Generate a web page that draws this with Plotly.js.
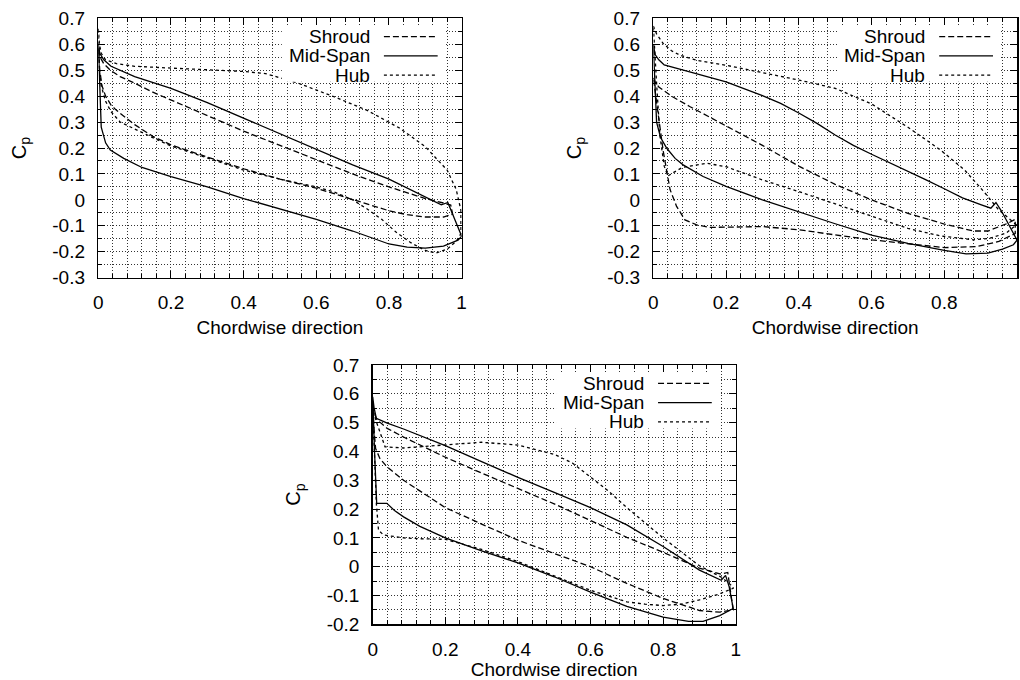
<!DOCTYPE html>
<html>
<head>
<meta charset="utf-8">
<script src="https://cdn.plot.ly/plotly-3.0.1.min.js"></script>
<style>html,body{margin:0;padding:0;background:#fff;}#chart{width:1020px;height:680px;}</style>
</head>
<body>
<div id="chart"></div>
<script>
// ---------- Data ----------
const seriesNames = ['Shroud', 'Mid-Span', 'Hub'];
const xTickVals = [0, 0.2, 0.4, 0.6, 0.8, 1];
const xTickText = ['0', '0.2', '0.4', '0.6', '0.8', '1'];
const yTickValsTop = [-0.3, -0.2, -0.1, 0, 0.1, 0.2, 0.3, 0.4, 0.5, 0.6, 0.7];
const yTickTextTop = ['-0.3', '-0.2', '-0.1', '0', '0.1', '0.2', '0.3', '0.4', '0.5', '0.6', '0.7'];
const yTickValsBot = [-0.2, -0.1, 0, 0.1, 0.2, 0.3, 0.4, 0.5, 0.6, 0.7];
const yTickTextBot = ['-0.2', '-0.1', '0', '0.1', '0.2', '0.3', '0.4', '0.5', '0.6', '0.7'];

// Panel 1 (top left)
const p1ShroudUpX = [0, 0.005, 0.015, 0.033, 0.06, 0.1, 0.15, 0.2, 0.3, 0.4, 0.5, 0.6, 0.7, 0.8, 0.9, 0.95, 0.97];
const p1ShroudUpY = [0.58, 0.55, 0.525, 0.5, 0.475, 0.45, 0.415, 0.385, 0.325, 0.265, 0.21, 0.155, 0.1, 0.05, 0.005, -0.012, -0.02];
const p1ShroudLoX = [0, 0.004, 0.01, 0.02, 0.035, 0.05, 0.1, 0.15, 0.2, 0.3, 0.4, 0.5, 0.6, 0.7, 0.75, 0.8, 0.85, 0.9, 0.95, 0.975];
const p1ShroudLoY = [0.58, 0.5, 0.44, 0.4, 0.365, 0.345, 0.29, 0.245, 0.212, 0.165, 0.12, 0.08, 0.045, 0.0, -0.02, -0.042, -0.057, -0.066, -0.066, -0.055];
const p1MidUpX = [0, 0.004, 0.015, 0.035, 0.1, 0.2, 0.3, 0.4, 0.5, 0.6, 0.7, 0.8, 0.9, 0.944, 0.962, 0.974];
const p1MidUpY = [0.6, 0.565, 0.54, 0.515, 0.475, 0.43, 0.375, 0.315, 0.255, 0.192, 0.135, 0.08, 0.012, -0.019, -0.01, -0.05];
const p1MidLoX = [0, 0.004, 0.008, 0.02, 0.033, 0.07, 0.12, 0.2, 0.3, 0.4, 0.5, 0.6, 0.7, 0.75, 0.8, 0.85, 0.9, 0.95, 0.99, 1.0];
const p1MidLoY = [0.6, 0.45, 0.28, 0.22, 0.192, 0.16, 0.125, 0.09, 0.05, 0.005, -0.035, -0.075, -0.12, -0.145, -0.17, -0.182, -0.186, -0.178, -0.155, -0.14];
const p1HubUpX = [0, 0.003, 0.008, 0.02, 0.05, 0.1, 0.2, 0.3, 0.4, 0.46, 0.55, 0.65, 0.74, 0.83, 0.9, 0.96, 0.985, 0.998];
const p1HubUpY = [0.66, 0.6, 0.565, 0.54, 0.525, 0.515, 0.508, 0.502, 0.495, 0.487, 0.45, 0.397, 0.345, 0.276, 0.205, 0.115, 0.04, -0.04];
const p1HubLoX = [0, 0.003, 0.008, 0.02, 0.035, 0.06, 0.1, 0.15, 0.2, 0.3, 0.4, 0.5, 0.6, 0.65, 0.7, 0.74, 0.78, 0.82, 0.86, 0.9, 0.93, 0.96, 0.985, 0.998];
const p1HubLoY = [0.66, 0.5, 0.44, 0.38, 0.34, 0.3, 0.275, 0.24, 0.208, 0.16, 0.115, 0.08, 0.05, 0.03, 0.0, -0.035, -0.075, -0.125, -0.165, -0.195, -0.205, -0.19, -0.16, -0.13];

// Panel 2 (top right)
const p2ShroudUpX = [0, 0.005, 0.015, 0.027, 0.05, 0.1, 0.2, 0.3, 0.4, 0.5, 0.6, 0.7, 0.8, 0.88, 0.92, 0.95, 0.975, 0.995];
const p2ShroudUpY = [0.47, 0.455, 0.435, 0.423, 0.4, 0.36, 0.285, 0.21, 0.13, 0.06, 0.0, -0.052, -0.093, -0.12, -0.12, -0.105, -0.09, -0.075];
const p2ShroudLoX = [0, 0.005, 0.014, 0.027, 0.046, 0.064, 0.087, 0.119, 0.156, 0.2, 0.3, 0.4, 0.5, 0.6, 0.7, 0.8, 0.89, 0.95, 0.995];
const p2ShroudLoY = [0.47, 0.43, 0.32, 0.19, 0.04, -0.025, -0.077, -0.096, -0.106, -0.104, -0.103, -0.115, -0.135, -0.154, -0.168, -0.184, -0.18, -0.16, -0.13];
const p2MidUpX = [0, 0.005, 0.015, 0.03, 0.07, 0.15, 0.2, 0.3, 0.35, 0.4, 0.45, 0.5, 0.55, 0.6, 0.65, 0.7, 0.75, 0.8, 0.85, 0.9, 0.928, 0.942, 0.958];
const p2MidUpY = [0.6, 0.56, 0.54, 0.52, 0.505, 0.475, 0.455, 0.402, 0.372, 0.335, 0.295, 0.25, 0.21, 0.176, 0.144, 0.112, 0.077, 0.043, 0.008, -0.018, -0.032, -0.01, -0.045];
const p2MidLoX = [0, 0.004, 0.009, 0.02, 0.037, 0.06, 0.082, 0.137, 0.2, 0.3, 0.4, 0.5, 0.6, 0.7, 0.8, 0.86, 0.92, 0.96, 0.99, 1.0];
const p2MidLoY = [0.6, 0.45, 0.3, 0.24, 0.199, 0.16, 0.135, 0.09, 0.052, 0.0, -0.045, -0.092, -0.136, -0.168, -0.195, -0.208, -0.205, -0.19, -0.173, -0.155];
const p2HubUpX = [0, 0.009, 0.027, 0.05, 0.073, 0.12, 0.2, 0.3, 0.4, 0.5, 0.6, 0.7, 0.79, 0.856, 0.911, 0.948, 0.975];
const p2HubUpY = [0.67, 0.64, 0.603, 0.575, 0.558, 0.538, 0.519, 0.49, 0.462, 0.43, 0.37, 0.28, 0.192, 0.115, 0.028, -0.036, -0.07];
const p2HubLoX = [0, 0.005, 0.009, 0.018, 0.03, 0.04, 0.055, 0.08, 0.147, 0.2, 0.3, 0.4, 0.5, 0.6, 0.7, 0.79, 0.88, 0.925, 0.97, 0.998];
const p2HubLoY = [0.67, 0.55, 0.45, 0.25, 0.13, 0.092, 0.105, 0.125, 0.141, 0.128, 0.077, 0.032, -0.015, -0.062, -0.11, -0.139, -0.154, -0.148, -0.128, -0.096];

// Panel 3 (bottom)
const p3ShroudUpX = [0, 0.005, 0.012, 0.04, 0.085, 0.2, 0.3, 0.4, 0.5, 0.6, 0.7, 0.8, 0.9, 0.96, 0.978];
const p3ShroudUpY = [0.56, 0.53, 0.51, 0.48, 0.45, 0.38, 0.325, 0.272, 0.218, 0.16, 0.102, 0.05, -0.005, -0.026, -0.02];
const p3ShroudLoX = [0, 0.004, 0.008, 0.02, 0.039, 0.085, 0.2, 0.3, 0.4, 0.5, 0.6, 0.7, 0.8, 0.9, 0.956, 0.993];
const p3ShroudLoY = [0.56, 0.47, 0.41, 0.375, 0.347, 0.3, 0.205, 0.148, 0.092, 0.046, 0.0, -0.058, -0.11, -0.152, -0.158, -0.15];
const p3MidUpX = [0, 0.004, 0.01, 0.04, 0.085, 0.2, 0.3, 0.4, 0.5, 0.6, 0.7, 0.8, 0.9, 0.96, 0.972, 0.982];
const p3MidUpY = [0.59, 0.55, 0.515, 0.498, 0.478, 0.42, 0.365, 0.31, 0.258, 0.205, 0.145, 0.07, -0.012, -0.047, -0.03, -0.07];
const p3MidLoX = [0, 0.005, 0.011, 0.039, 0.06, 0.085, 0.13, 0.2, 0.3, 0.4, 0.5, 0.6, 0.7, 0.8, 0.87, 0.91, 0.956, 0.993];
const p3MidLoY = [0.59, 0.4, 0.22, 0.22, 0.195, 0.173, 0.14, 0.1, 0.055, 0.013, -0.035, -0.088, -0.138, -0.175, -0.19, -0.19, -0.17, -0.145];
const p3HubUpX = [0, 0.004, 0.011, 0.034, 0.085, 0.2, 0.3, 0.4, 0.45, 0.5, 0.55, 0.6, 0.65, 0.7, 0.8, 0.9, 0.96, 0.993];
const p3HubUpY = [0.56, 0.53, 0.5, 0.416, 0.412, 0.422, 0.432, 0.422, 0.405, 0.39, 0.36, 0.312, 0.262, 0.205, 0.1, 0.003, -0.036, -0.07];
const p3HubLoX = [0, 0.005, 0.01, 0.016, 0.03, 0.085, 0.131, 0.2, 0.3, 0.4, 0.5, 0.6, 0.7, 0.75, 0.8, 0.85, 0.9, 0.95, 0.993];
const p3HubLoY = [0.56, 0.4, 0.22, 0.126, 0.11, 0.1, 0.097, 0.095, 0.06, 0.018, -0.032, -0.082, -0.122, -0.13, -0.135, -0.13, -0.115, -0.097, -0.075];

// ---------- Styling ----------
const FONT = 'Liberation Sans, Arial, Helvetica, sans-serif';
const FS = 19;
const dashes = ['6px,3px', 'solid', '3px,3px'];
const GRID = '#333';
const GRIDDASH = '1px,2px';

function loop(ux, uy, lx, ly) {
  return { x: ux.concat(lx.slice().reverse()), y: uy.concat(ly.slice().reverse()) };
}

const panels = [
  [[p1ShroudUpX, p1ShroudUpY, p1ShroudLoX, p1ShroudLoY], [p1MidUpX, p1MidUpY, p1MidLoX, p1MidLoY], [p1HubUpX, p1HubUpY, p1HubLoX, p1HubLoY]],
  [[p2ShroudUpX, p2ShroudUpY, p2ShroudLoX, p2ShroudLoY], [p2MidUpX, p2MidUpY, p2MidLoX, p2MidLoY], [p2HubUpX, p2HubUpY, p2HubLoX, p2HubLoY]],
  [[p3ShroudUpX, p3ShroudUpY, p3ShroudLoX, p3ShroudLoY], [p3MidUpX, p3MidUpY, p3MidLoX, p3MidLoY], [p3HubUpX, p3HubUpY, p3HubLoX, p3HubLoY]]
];

const traces = [];
panels.forEach((series, pi) => {
  const s = pi === 0 ? '' : String(pi + 1);
  series.forEach((d, si) => {
    const l = loop(d[0], d[1], d[2], d[3]);
    traces.push({
      type: 'scatter', mode: 'lines', name: seriesNames[si],
      x: l.x, y: l.y, xaxis: 'x' + s, yaxis: 'y' + s,
      line: { color: '#000', width: 1.3, dash: dashes[si] },
      hoverinfo: 'skip', showlegend: false
    });
  });
});

function xAxis(domain, anchor) {
  return {
    domain: domain, anchor: anchor, range: [0, 1], autorange: false,
    tickmode: 'array', tickvals: xTickVals, ticktext: xTickText,
    ticks: 'inside', ticklen: 7, tickwidth: 1, tickcolor: '#000',
    showline: true, linecolor: '#000', linewidth: 1.5, mirror: 'allticks',
    showgrid: true, gridcolor: GRID, gridwidth: 1, griddash: GRIDDASH, zeroline: false,
    minor: { tickmode: 'linear', tick0: 0, dtick: 0.04, ticks: 'inside', ticklen: 4, tickcolor: '#000', tickwidth: 1,
             showgrid: true, gridcolor: GRID, gridwidth: 1, griddash: GRIDDASH },
    tickfont: { family: FONT, size: FS, color: '#000' },
    ticklabelstandoff: 7,
    title: { text: 'Chordwise direction', font: { family: FONT, size: FS, color: '#000' }, standoff: 8 },
    automargin: false, fixedrange: true
  };
}
function yAxis(domain, anchor, range, vals, text) {
  return {
    domain: domain, anchor: anchor, range: range, autorange: false,
    tickmode: 'array', tickvals: vals, ticktext: text,
    ticks: 'inside', ticklen: 7, tickwidth: 1, tickcolor: '#000',
    showline: true, linecolor: '#000', linewidth: 1.5, mirror: 'allticks',
    showgrid: true, gridcolor: GRID, gridwidth: 1, griddash: GRIDDASH, zeroline: false,
    minor: { tickmode: 'linear', tick0: 0, dtick: 0.05, ticks: 'inside', ticklen: 4, tickcolor: '#000', tickwidth: 1,
             showgrid: true, gridcolor: GRID, gridwidth: 1, griddash: GRIDDASH },
    tickfont: { family: FONT, size: FS, color: '#000' },
    ticklabelstandoff: 8,
    title: { text: 'C<sub>p</sub>', font: { family: FONT, size: 20, color: '#000' }, standoff: 20 },
    automargin: false, fixedrange: true
  };
}

const rowY = [0.929, 0.855, 0.781];
const annotations = [];
const shapes = [];
['', '2', '3'].forEach(s => {
  const xr = 'x' + s + ' domain', yr = 'y' + s + ' domain';
  shapes.push({ type: 'rect', xref: xr, yref: yr, x0: 0.505, x1: 0.955, y0: 0.755, y1: 0.968,
                fillcolor: '#fff', line: { width: 0 }, layer: 'above' });
  seriesNames.forEach((n, j) => {
    annotations.push({ xref: xr, yref: yr, x: 0.753, y: rowY[j], xanchor: 'right', yanchor: 'middle',
                       text: n, showarrow: false, font: { family: FONT, size: FS, color: '#000' } });
    shapes.push({ type: 'line', xref: xr, yref: yr, x0: 0.786, x1: 0.934, y0: rowY[j], y1: rowY[j],
                  layer: 'above', line: { color: '#000', width: 1.3, dash: dashes[j] } });
  });
});

const layout = {
  width: 1020, height: 680,
  margin: { l: 0, r: 0, t: 0, b: 0, pad: 0 },
  paper_bgcolor: '#fff', plot_bgcolor: '#fff',
  showlegend: false,
  font: { family: FONT, size: FS, color: '#000' },
  xaxis: xAxis([0.0964, 0.4526], 'y'),
  yaxis: yAxis([0.5916, 0.9731], 'x', [-0.3, 0.7], yTickValsTop, yTickTextTop),
  xaxis2: xAxis([0.6405, 0.9971], 'y2'),
  yaxis2: yAxis([0.5916, 0.9731], 'x2', [-0.3, 0.7], yTickValsTop, yTickTextTop),
  xaxis3: xAxis([0.3654, 0.7213], 'y3'),
  yaxis3: yAxis([0.0819, 0.4632], 'x3', [-0.2, 0.7], yTickValsBot, yTickTextBot),
  annotations: annotations,
  shapes: shapes
};

Plotly.newPlot('chart', traces, layout, { displayModeBar: false, staticPlot: true });
</script>
</body>
</html>
